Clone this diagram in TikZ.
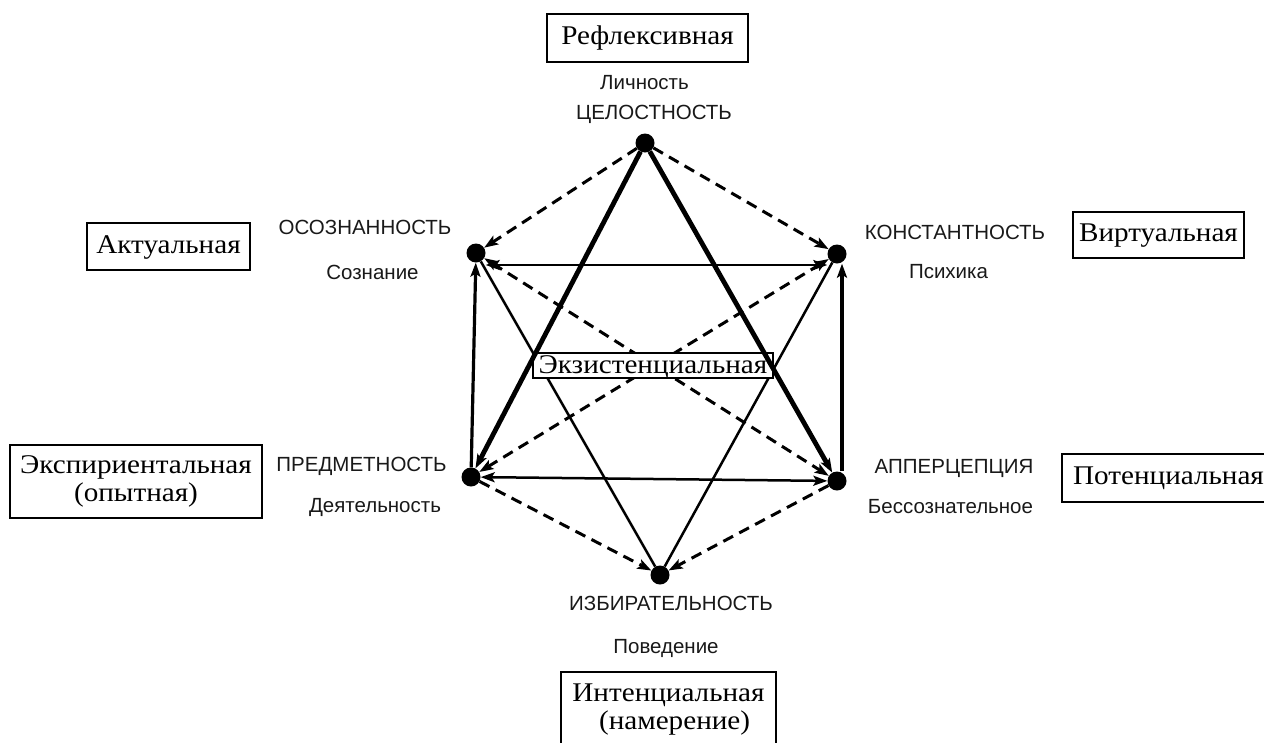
\documentclass[tikz,border=0pt]{standalone}
\usepackage{fontspec}
\setmainfont{Liberation Serif}[FakeStretch=1.08]
\newfontfamily\labfont{Liberation Sans}
\usetikzlibrary{arrows.meta}
\tikzset{
  dot/.style={circle,fill=black,inner sep=0pt,minimum size=19pt},
  tbox/.style={draw,line width=1.8pt,fill=white,font=\fontsize{27}{27}\selectfont,inner sep=0pt,align=center,text height=19pt,text depth=6pt},
  tbox2/.style={draw,line width=1.8pt,fill=white,font=\fontsize{27}{28}\selectfont,inner sep=0pt,align=center},
  lab/.style={font=\labfont\fontsize{20.5}{22}\selectfont,text=black!90},
  tip/.style={-{Stealth[length=14pt,width=10pt,inset=3pt]}},
  tips/.style={{Stealth[length=14pt,width=10pt,inset=3pt]}-{Stealth[length=14pt,width=10pt,inset=3pt]}},
  thinl/.style={line width=2.5pt},
  thickl/.style={line width=4.8pt},
  midl/.style={line width=3.2pt},
  dashl/.style={line width=3pt,dash pattern=on 11pt off 7pt},
}
\begin{document}
\begin{tikzpicture}[x=1pt,y=-1pt]
\useasboundingbox[fill=white] (0,0) rectangle (1264,742);
% dots
\node[dot] (T) at (645,143) {};
\node[dot] (UL) at (476,253) {};
\node[dot] (UR) at (837,254) {};
\node[dot] (LL) at (471,477) {};
\node[dot] (LR) at (837,481) {};
\node[dot] (B) at (660,575) {};
% connectors behind center box
\draw[dashl,tips] (UL) -- (LR);
\draw[dashl,tips] (UR) -- (LL);
\draw[thinl] (UL) -- (B);
\draw[thinl] (UR) -- (B);
% center box
\node[tbox,minimum width=240pt,minimum height=25pt,text height=18pt,text depth=2pt] (E) at (653,365.5) {Экзистенциальная};
% other connectors
\draw[dashl,tip] (T) -- (UL);
\draw[dashl,tip] (T) -- (UR);
\draw[thickl,tip] (T) -- (LL);
\draw[thickl,tip] (T) -- (LR);
\draw[thinl,tips] ([yshift=-12pt]UL.east) -- ([yshift=-11pt]UR.west);
\draw[thinl,tips] (LL) -- (LR);
\draw[midl,tip] (LL) -- (UL);
\draw[midl,tip] ([xshift=5pt]LR.north) -- ([xshift=5pt]UR.south);
\draw[dashl,tip] (LL) -- (B);
\draw[dashl,tip] (LR) -- (B);
% boxes
\node[tbox,minimum width=201pt,minimum height=48pt] (R) at (647.5,38) {Рефлексивная};
\node[tbox,minimum width=163pt,minimum height=47pt] (A) at (168.5,246.5) {Актуальная};
\node[tbox,minimum width=171pt,minimum height=46pt] (V) at (1158.5,235) {Виртуальная};
\node[tbox2,minimum width=252pt,minimum height=73pt] (X) at (136,481.5) {Экспириентальная\\(опытная)};
\node[tbox,minimum width=213pt,minimum height=48pt] (P) at (1168.5,478) {Потенциальная};
\node[tbox2,minimum width=215pt,minimum height=76pt] (I) at (668.5,710) {Интенциальная\\\hspace*{0.45em}(намерение)};
% labels
\node[lab] (l1) at (644.5,83) {Личность};
\node[lab] (l2) at (654,114) {ЦЕЛОСТНОСТЬ};
\node[lab] (l3) at (365,227) {ОСОЗНАННОСТЬ};
\node[lab] (l4) at (372.5,272) {Сознание};
\node[lab] (l5) at (955,232) {КОНСТАНТНОСТЬ};
\node[lab] (l6) at (948.5,272) {Психика};
\node[lab] (l7) at (361.5,466) {ПРЕДМЕТНОСТЬ};
\node[lab] (l8) at (375,507) {Деятельность};
\node[lab] (l9) at (954,468) {АППЕРЦЕПЦИЯ};
\node[lab] (l10) at (950.5,507) {Бессознательное};
\node[lab] (l11) at (671,603) {ИЗБИРАТЕЛЬНОСТЬ};
\node[lab] (l12) at (666,648) {Поведение};
\end{tikzpicture}
\end{document}
